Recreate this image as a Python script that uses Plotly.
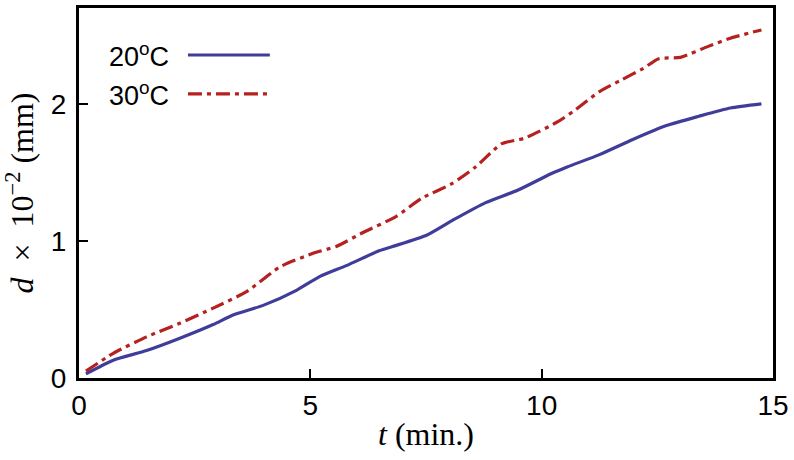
import plotly.graph_objects as go

# Data
t_20 = [0.15, 0.74, 1.46, 2.18, 2.9, 3.33, 3.98, 4.7, 5.2, 5.78, 6.5, 6.78, 7.5, 8.07,
        8.79, 9.48, 10.2, 10.55, 11.25, 11.97, 12.68, 13.4, 14.08, 14.75]
d_20 = [0.03, 0.13, 0.20, 0.29, 0.39, 0.46, 0.53, 0.64, 0.74, 0.82, 0.93, 0.96, 1.04, 1.15,
        1.28, 1.37, 1.49, 1.54, 1.63, 1.74, 1.84, 1.91, 1.97, 2.00]

t_30 = [0.15, 0.74, 1.46, 2.18, 2.9, 3.62, 4.34, 5.06, 5.56, 6.13, 6.86, 7.4, 8.07, 8.57,
        9.14, 9.63, 10.35, 10.7, 11.25, 11.75, 12.2, 12.53, 13.0, 13.6, 14.08, 14.75]
d_30 = [0.05, 0.18, 0.30, 0.40, 0.51, 0.63, 0.81, 0.91, 0.96, 1.06, 1.18, 1.31, 1.42, 1.54,
        1.71, 1.75, 1.87, 1.95, 2.09, 2.18, 2.26, 2.33, 2.34, 2.42, 2.48, 2.54]

x_ticks = [0, 5, 10, 15]
y_ticks = [0, 1, 2]
labels = ["20<sup>o</sup>C", "30<sup>o</sup>C"]

BLUE = "#3f3d99"
RED = "#b5211f"
DASHDOT = "14px,5px,4px,5px"

fig = go.Figure()
fig.add_trace(go.Scatter(x=t_20, y=d_20, mode="lines", name=labels[0],
                         line=dict(color=BLUE, width=3.2, shape="spline", smoothing=0.6),
                         showlegend=False))
fig.add_trace(go.Scatter(x=t_30, y=d_30, mode="lines", name=labels[1],
                         line=dict(color=RED, width=3.2, dash=DASHDOT, shape="spline", smoothing=0.6),
                         showlegend=False))

# Legend (text on the left, sample line on the right)
leg_y = [0.873, 0.768]
styles = [dict(color=BLUE, width=3.2), dict(color=RED, width=3.2, dash=DASHDOT)]
for lab, yy, st in zip(labels, leg_y, styles):
    fig.add_annotation(x=0.133, y=yy, xref="paper", yref="paper", text=lab,
                       showarrow=False, xanchor="right", yanchor="middle",
                       font=dict(family="Liberation Sans", size=27, color="black"))
    fig.add_shape(type="line", xref="paper", yref="paper", x0=0.157, x1=0.275,
                  y0=yy, y1=yy, line=st)

axis_common = dict(showline=True, mirror=True, linecolor="black", linewidth=3,
                   ticks="inside", ticklen=9, tickwidth=2, tickcolor="black",
                   showgrid=False, zeroline=False,
                   tickfont=dict(family="Liberation Sans", size=28, color="black"))

fig.update_xaxes(range=[0, 15], tickvals=x_ticks, **axis_common,
                 title=dict(text="<i>t</i> (min.)", standoff=4,
                            font=dict(family="Liberation Serif", size=32, color="black")))
fig.update_yaxes(range=[0, 2.7], tickvals=y_ticks, **axis_common, ticklabelstandoff=4,
                 title=dict(text="<i>d</i> &nbsp;×&nbsp; 10<sup>−2</sup> (mm)", standoff=10,
                            font=dict(family="Liberation Serif", size=32, color="black")))

fig.update_layout(width=794, height=460, plot_bgcolor="white", paper_bgcolor="white",
                  margin=dict(l=79, r=21, t=8, b=82, autoexpand=False))

fig.write_html("out.html", config={"displayModeBar": False},
               post_script="document.body.style.margin='0';")
